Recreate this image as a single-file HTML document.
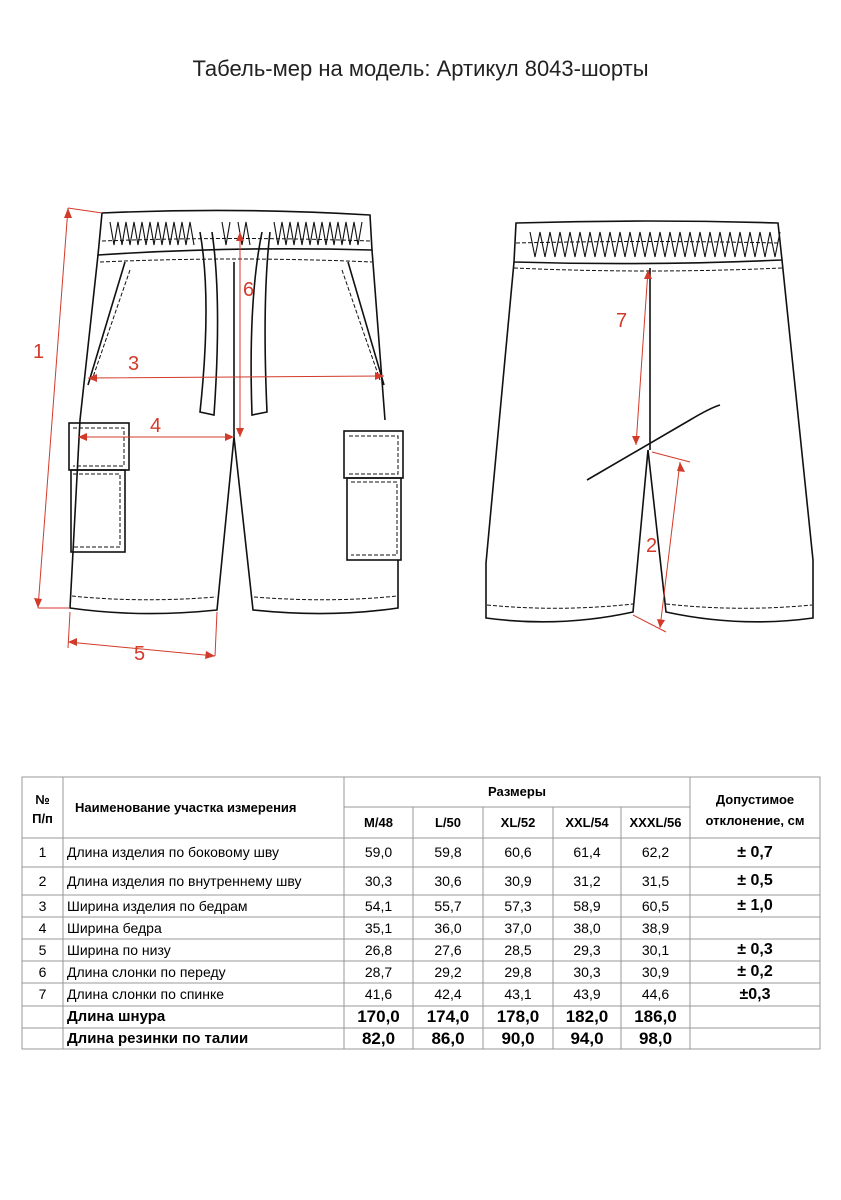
<!DOCTYPE html>
<html><head><meta charset="utf-8"><style>
body{margin:0;width:841px;height:1200px;background:#fff;font-family:"Liberation Sans",sans-serif;position:relative;overflow:hidden}
.t{position:absolute;font-size:11.5px;color:#000;font-family:"Liberation Sans","DejaVu Sans",sans-serif}
</style></head><body>
<div style="position:absolute;left:0;width:841px;top:56px;text-align:center;font-size:22px;color:#222">Табель-мер на модель: Артикул 8043-шорты</div>
<svg width="841" height="1200" style="position:absolute;left:0;top:0" fill="none">
<g stroke="#111" stroke-width="1.6">
<!-- FRONT -->
<path d="M102 213 Q236 207 370 215 L372 250 Q236 246 98 255 Z"/>
<path d="M98 255 L80 420 L70 608 Q140 618 217 610 L234 437 L253 610 Q330 618 398 608 L398 560 M385 420 L372 250"/>
<path d="M234 262 L234 437"/>
<path d="M125 262 L88 385 M348 262 L384 385"/>
<path d="M200 232 Q212 300 200 412 L214 415 Q222 300 212 232 M262 232 Q248 300 252 415 L267 412 Q262 300 270 232"/>
<rect x="69" y="423" width="60" height="47"/><rect x="71" y="470" width="54" height="82"/>
<rect x="344" y="431" width="59" height="47"/><rect x="347" y="478" width="54" height="82"/>
<path d="M110 222 l4 23 l4 -23 l4 23 l4 -23 l4 23 l4 -23 l4 23 l4 -23 l4 23 l4 -23 l4 23 l4 -23 l4 23 l4 -23 l4 23 l4 -23 l4 23 l4 -23 l4 23 l4 -23 l4 23 M222 222 l4 23 l4 -23 M238 222 l4 23 l4 -23 l4 23 M274 222 l4 23 l4 -23 l4 23 l4 -23 l4 23 l4 -23 l4 23 l4 -23 l4 23 l4 -23 l4 23 l4 -23 l4 23 l4 -23 l4 23 l4 -23 l4 23 l4 -23 l4 23 l4 -23 l4 23 l4 -23" stroke-width="1.1"/>
<!-- BACK -->
<path d="M516 223 Q648 219 778 223 L782 260 Q648 266 514 262 Z"/>
<path d="M514 262 L486 563 L486 618 Q560 628 633 612 L648 450 L666 612 Q740 628 813 618 L813 560 L782 260"/>
<path d="M650 268 L650 450 M587 480 L690 420 Q710 408 720 405"/>
<path d="M530 232 l5 25 l5 -25 l5 25 l5 -25 l5 25 l5 -25 l5 25 l5 -25 l5 25 l5 -25 l5 25 l5 -25 l5 25 l5 -25 l5 25 l5 -25 l5 25 l5 -25 l5 25 l5 -25 l5 25 l5 -25 l5 25 l5 -25 l5 25 l5 -25 l5 25 l5 -25 l5 25 l5 -25 l5 25 l5 -25 l5 25 l5 -25 l5 25 l5 -25 l5 25 l5 -25 l5 25 l5 -25 l5 25 l5 -25 l5 25 l5 -25 l5 25 l5 -25 l5 25 l5 -25 l5 25 l5 -25" stroke-width="1.1"/>
</g>
<g stroke="#111" stroke-width="1" stroke-dasharray="4 2">
<path d="M102 241 Q236 236 370 241 M100 262 Q236 256 372 262 M130 270 L92 380 M342 270 L380 380"/>
<path d="M73 428 H124 V466 H73 M73 474 H120 V547 H73 M349 436 H398 V474 H349 M351 482 H397 V555 H351"/>
<path d="M72 596 Q140 603 216 597 M254 597 Q330 603 397 596 M516 243 Q648 240 778 243 M514 268 Q648 274 782 268 M487 605 Q560 612 633 604 M666 604 Q740 612 812 605"/>
</g>
<g stroke="#d23a2a" stroke-width="1" fill="#d23a2a">
<path d="M68 208 L38 608 M68 208 L102 213 M38 608 L70 608 M70 612 L68 648 M217 612 L215 656 M68 642 L215 656 M88 378 L384 376 M78 437 L234 437 M240 232 L240 437 M648 270 L636 445 M680 462 L660 628 M652 452 L690 462 M633 615 L666 632"/>
<path d="M68 208 l-4 10 h8z M38 608 l-4 -10 l8 1z M68 642 l9 -4 l0 8z M215 656 l-9 -5 l-1 8z M88 378 l9 -4 v8z M384 376 l-9 -4 v8z M78 437 l9 -4 v8z M234 437 l-9 -4 v8z M240 232 l-4 9 h8z M240 437 l-4 -9 h8z M648 270 l-4 9 h8z M636 445 l-4 -9 h8z M680 462 l-3 9 l8 1z M660 628 l-3 -9 l8 1z" stroke="none"/>
</g>
<g fill="#d23a2a" font-family="Liberation Sans" font-size="20" stroke="none">
<text x="33" y="358">1</text><text x="128" y="370">3</text><text x="150" y="432">4</text><text x="243" y="296">6</text><text x="134" y="660">5</text><text x="616" y="327">7</text><text x="646" y="552">2</text>
</g>
<!-- table -->
<g stroke="#999" stroke-width="1">
<rect x="22" y="777" width="798" height="272"/>
<path d="M63 777 V1049 M344 777 V1049 M690 777 V1049 M413 807 V1049 M483 807 V1049 M553 807 V1049 M621 807 V1049 M344 807 H690"/>
<path d="M22 838 H820 M22 867 H820 M22 895 H820 M22 917 H820 M22 939 H820 M22 961 H820 M22 983 H820 M22 1006 H820 M22 1028 H820"/>
</g>
</svg>
<div class="t" style="left:22px;width:41px;top:790px;text-align:center;font-weight:bold;line-height:19px;font-size:13px">№<br>П/п</div>
<div class="t" style="left:75px;top:800px;font-weight:bold;font-size:13px">Наименование участка измерения</div>
<div class="t" style="left:344px;width:346px;top:784px;text-align:center;font-weight:bold;font-size:13px">Размеры</div>
<div class="t" style="left:690px;width:130px;top:789px;text-align:center;font-weight:bold;line-height:21px;font-size:13px">Допустимое<br>отклонение, см</div>
<div class="t" style="left:344px;width:69px;top:815px;text-align:center;font-weight:bold;font-size:13px">M/48</div>
<div class="t" style="left:413px;width:70px;top:815px;text-align:center;font-weight:bold;font-size:13px">L/50</div>
<div class="t" style="left:483px;width:70px;top:815px;text-align:center;font-weight:bold;font-size:13px">XL/52</div>
<div class="t" style="left:553px;width:68px;top:815px;text-align:center;font-weight:bold;font-size:13px">XXL/54</div>
<div class="t" style="left:621px;width:69px;top:815px;text-align:center;font-weight:bold;font-size:13px">XXXL/56</div>
<div id="rows"></div>
<script>
var R=[[838,867,"1","Длина изделия по боковому шву",["59,0","59,8","60,6","61,4","62,2"],"± 0,7"],
[867,895,"2","Длина изделия по внутреннему шву",["30,3","30,6","30,9","31,2","31,5"],"± 0,5"],
[895,917,"3","Ширина изделия по бедрам",["54,1","55,7","57,3","58,9","60,5"],"± 1,0"],
[917,939,"4","Ширина бедра",["35,1","36,0","37,0","38,0","38,9"],""],
[939,961,"5","Ширина по низу",["26,8","27,6","28,5","29,3","30,1"],"± 0,3"],
[961,983,"6","Длина слонки по переду",["28,7","29,2","29,8","30,3","30,9"],"± 0,2"],
[983,1006,"7","Длина слонки по спинке",["41,6","42,4","43,1","43,9","44,6"],"±0,3"],
[1006,1028,"","Длина шнура",["170,0","174,0","178,0","182,0","186,0"],""],
[1028,1049,"","Длина резинки по талии",["82,0","86,0","90,0","94,0","98,0"],""]];
var X=[344,413,483,553,621,690],h="";
R.forEach(function(r,i){var b=i>=7,fs=b?15:14,lh=(r[1]-r[0])+"px";
function c(l,w,t,ex){h+='<div class="t" style="left:'+l+'px;width:'+w+'px;top:'+r[0]+'px;height:'+(r[1]-r[0])+'px;line-height:'+lh+';'+ex+'">'+t+'</div>';}
c(22,41,r[2],"text-align:center;font-size:14px");
c(67,277,r[3],"font-size:"+fs+"px;"+(b?"font-weight:bold":""));
for(var k=0;k<5;k++)c(X[k],X[k+1]-X[k],r[4][k],"text-align:center;font-size:"+(b?17:14)+"px;"+(b?"font-weight:bold":""));
c(690,130,r[5],"text-align:center;font-weight:bold;font-size:16px");});
document.getElementById("rows").innerHTML=h;
</script>
</body></html>
